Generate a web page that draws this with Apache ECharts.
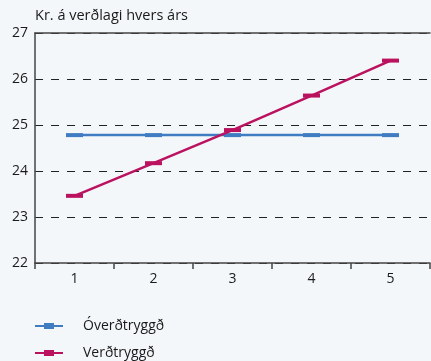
<!DOCTYPE html>
<html>
<head>
<meta charset="utf-8">
<script src="https://cdn.jsdelivr.net/npm/echarts@6/dist/echarts.min.js"></script>
<style>
  html, body { margin: 0; padding: 0; background: #f4f7fa; }
  #chart { width: 431px; height: 361px; }
</style>
</head>
<body>
<div id="chart"></div>
<script>
// Years after taking the loan
const years = ['1', '2', '3', '4', '5'];
// Payment in current-year krónur
const overdtryggd = [24.78, 24.78, 24.78, 24.78, 24.78];
const verdtryggd = [23.46, 24.17, 24.89, 25.64, 26.40];
const seriesNames = ['Óverðtryggð', 'Verðtryggð'];
const yTitle = 'Kr. á verðlagi hvers árs';

const FONT = '"Open Sans", sans-serif';
const TEXT = '#1a1a1a';
const BLUE = '#3f7cc2';
const PINK = '#bb1260';
// legend key: thin line with a flat block in the middle
const KEY_ICON = 'path://M0,2H9V0H19V2H28V4H19V6H9V4H0Z';

const chart = echarts.init(document.getElementById('chart'), null, { renderer: 'canvas' });

chart.setOption({
  backgroundColor: '#f4f7fa',
  animation: false,
  title: {
    text: yTitle,
    left: 30,
    top: 8,
    padding: [0, 5, 0, 5],
    textStyle: { fontFamily: FONT, fontSize: 14.5, fontWeight: 'normal', color: TEXT }
  },
  grid: { left: 35, right: 1, top: 33, bottom: 98, containLabel: false },
  legend: {
    orient: 'vertical',
    left: 35,
    top: 318,
    padding: 0,
    height: 60,
    itemWidth: 28,
    itemHeight: 6,
    itemGap: 11,
    align: 'left',
    icon: KEY_ICON,
    textStyle: { fontFamily: FONT, fontSize: 14, lineHeight: 16, color: TEXT, padding: [0, 0, 0, 15] },
    data: seriesNames
  },
  xAxis: [
    {
      type: 'category',
      data: years,
      boundaryGap: true,
      axisLine: { lineStyle: { color: '#444', width: 1.5 } },
      axisTick: { show: true, length: 6, lineStyle: { color: '#444', width: 1.5 } },
      axisLabel: { fontFamily: FONT, fontSize: 14, color: TEXT, margin: 9 },
      splitLine: { show: false }
    },
    {
      type: 'category',
      data: years,
      position: 'top',
      axisLine: { lineStyle: { color: '#444', width: 1.5 } },
      axisTick: { show: false },
      axisLabel: { show: false },
      splitLine: { show: false }
    }
  ],
  yAxis: {
    type: 'value',
    min: 22,
    max: 27,
    interval: 1,
    axisLine: { show: true, lineStyle: { color: '#444', width: 1.5 } },
    axisTick: { show: false },
    axisLabel: { fontFamily: FONT, fontSize: 14, color: TEXT, margin: 7 },
    splitLine: {
      show: true,
      lineStyle: { color: '#222', type: [8, 8], width: 1 }
    }
  },
  series: [
    {
      name: seriesNames[0],
      type: 'line',
      data: overdtryggd,
      symbol: 'rect',
      symbolSize: [17, 4],
      showSymbol: true,
      lineStyle: { color: BLUE, width: 2.5 },
      itemStyle: { color: BLUE },
      z: 2
    },
    {
      name: seriesNames[1],
      type: 'line',
      data: verdtryggd,
      symbol: 'rect',
      symbolSize: [17, 4],
      showSymbol: true,
      lineStyle: { color: PINK, width: 2.5 },
      itemStyle: { color: PINK },
      z: 3
    }
  ]
});
</script>
</body>
</html>
